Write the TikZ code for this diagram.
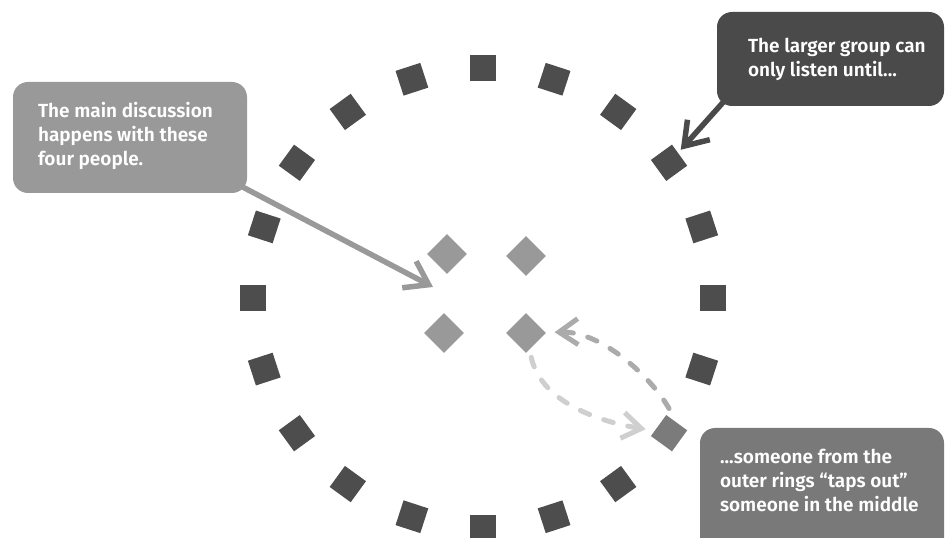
\documentclass[tikz,border=0pt]{standalone}
\usepackage{fontspec}
\setmainfont{Fira Sans}[BoldFont={Fira Sans SemiBold}]
\usetikzlibrary{arrows.meta,backgrounds}
\definecolor{outer}{HTML}{4D4D4D}
\definecolor{tapgray}{HTML}{7B7B7B}
\definecolor{midgray}{HTML}{999999}
\definecolor{darkbox}{HTML}{4A4A4A}
\definecolor{tapbox}{HTML}{797979}
\definecolor{dashmid}{HTML}{ABABAB}
\definecolor{dashlight}{HTML}{CFCFCF}
\begin{document}
\begin{tikzpicture}[x=1pt,y=1pt,line cap=round,line join=round,
	seat/.style={rectangle,fill=outer,minimum size=26pt,inner sep=0pt},
	centre/.style={rectangle,fill=midgray,minimum size=28pt,inner sep=0pt,rotate=45},
	callout/.style={rectangle,rounded corners=15pt,inner sep=0pt},
	calltext/.style={font=\fontsize{19}{24}\selectfont\bfseries,text=white,align=left,inner sep=0pt},
	pointer/.style={line width=5.5pt,-{Straight Barb[length=22pt,width=30pt]}},
	tapback/.style={line width=5pt,dash pattern=on 10pt off 15pt,-{Straight Barb[length=19pt,width=26pt]}}]
	\useasboundingbox (0,0) rectangle (945,538);
	\foreach \k in {0,...,6,8,9,...,19}{
		\pgfmathsetmacro\a{90-18*\k}
		\node[seat,rotate=\a] (s\k) at ([shift={(483,240)}]\a:230) {};
	}
	\node[seat,fill=tapgray,rotate=-36] (s7) at ([shift={(483,240)}]-36:230) {};
	\node[centre] (d1) at (447,284) {};
	\node[centre] (d2) at (526,282) {};
	\node[centre] (d3) at (444,205) {};
	\node[centre] (d4) at (526,205) {};
	\coordinate (focus) at (433,251);
	\node[callout,fill=midgray,minimum width=234pt,minimum height=111pt] (mainbox) at (130,400.5) {};
	\node[calltext,anchor=west] (maintext) at ([xshift=25pt,yshift=2pt]mainbox.west) {The main discussion\\happens with these\\four people.};
	\node[callout,fill=darkbox,minimum width=227pt,minimum height=94pt] (larger) at (830.5,479) {};
	\node[calltext,anchor=west] (largertext) at ([xshift=31pt]larger.west) {The larger group can\\only listen until...};
	\node[callout,fill=tapbox,minimum width=244pt,minimum height=132pt] (tapout) at (822,44) {};
	\node[calltext,anchor=west] (tapouttext) at ([xshift=20pt,yshift=14pt]tapout.west) {...someone from the\\outer rings “taps out”\\someone in the middle};
	\begin{scope}[on background layer]
		\draw[pointer,draw=midgray] ([shift={(-8pt,8pt)}]mainbox.south east) -- (focus);
		\draw[pointer,draw=darkbox,shorten >=4pt] ([shift={(10pt,8pt)}]larger.south west) -- (s3);
	\end{scope}
	\draw[tapback,draw=dashmid,shorten <=16pt,shorten >=9pt] (s7.north) .. controls (652,160) and (602,207) .. (d4);
	\draw[tapback,draw=dashlight,shorten <=8pt,shorten >=9pt] (d4) .. controls (540,140) and (590,118) .. (s7);
\end{tikzpicture}
\end{document}
